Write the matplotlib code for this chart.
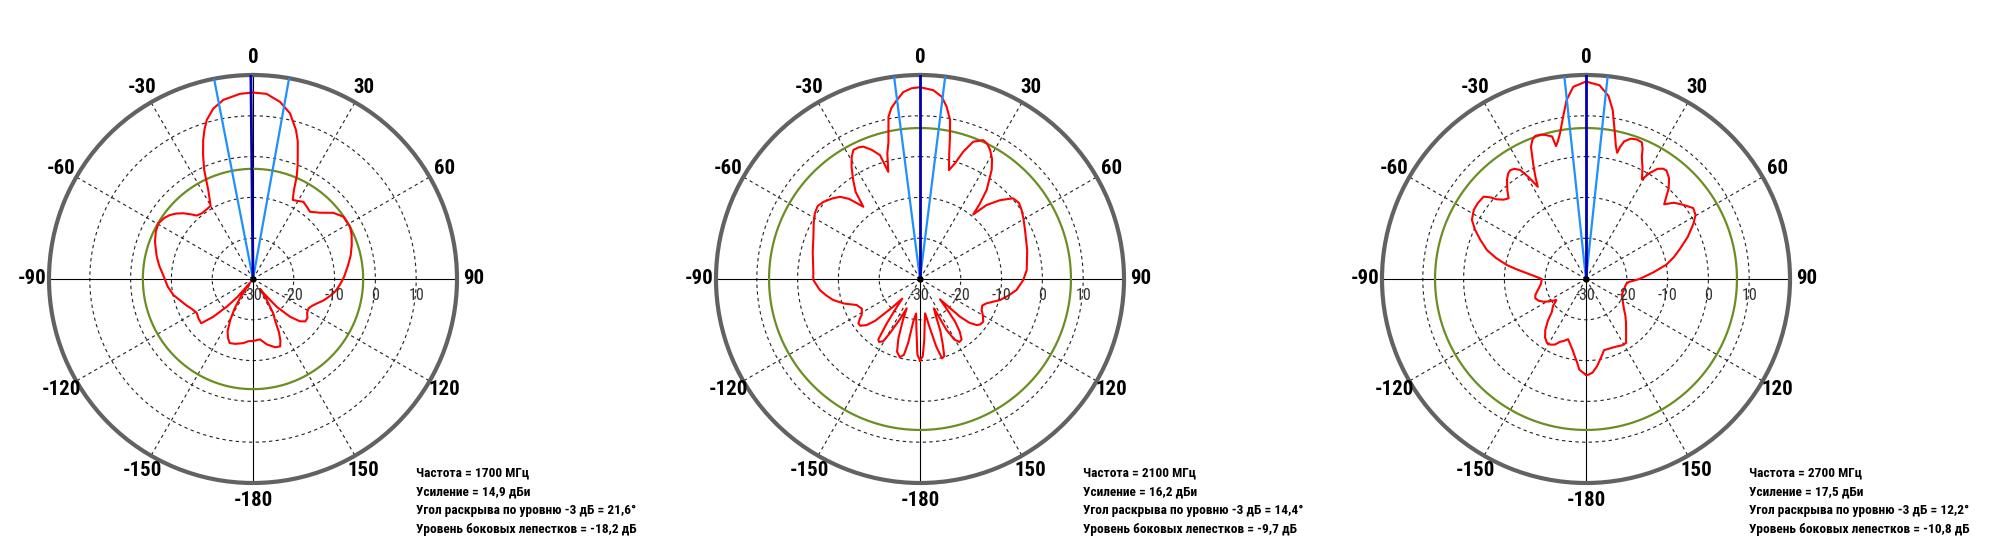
import numpy as np
import matplotlib
matplotlib.use("Agg")
import matplotlib.pyplot as plt
from matplotlib import transforms
from matplotlib import font_manager as fm

# Radiation patterns, angle in degrees (0 = boresight, clockwise positive), level in dB
ANG_1700 = [-180, -175.7, -171.4, -164.5, -160, -157, -154, -151, -148, -145, -142, -139,
            -136.5, -133.5, -130.5, -126, -121, -116, -111.9, -106, -101.4, -95, -87.7,
            -82, -76.5, -69.2, -64, -59.5, -55.5, -52.4, -49.5, -46.7, -43.5, -41.6, -38,
            -34, -30.1, -28.3, -26.7, -24.1, -21.8, -19.7, -18, -16.2, -13.1, -9.4, -4, 0,
            4.2, 8.7, 12.6, 16.1, 18, 19.6, 21.4, 23.1, 24.7, 26.7, 29.5, 33.1, 36.6, 40.3,
            45.3, 50.5, 55.4, 61.7, 65.8, 71, 76.6, 82, 88.8, 94, 98.6, 102.5, 106.8, 110.5,
            114.4, 118, 121.8, 125.5, 129, 132, 135.5, 139.5, 143, 144.8, 146.5, 149.5, 152,
            154, 156, 158, 162, 168, 173.4, 180]
DB_1700 = [-14.8, -14.7, -14.1, -13.5, -13.3, -14.3, -15.8, -18.5, -21.5, -25, -29, -24,
           -20.6, -16.5, -13.3, -13.5, -13.9, -13.3, -12.5, -11.3, -10.1, -9.0, -8.0,
           -6.8, -5.7, -4.3, -3.5, -3.1, -3.6, -4.3, -5.3, -6.5, -8.2, -9.2, -9.6,
           -9.5, -9.3, -7.5, -5.6, -0.7, 3.0, 6.2, 8.5, 10.6, 12.9, 14.5, 15.5, 15.7,
           15.5, 13.9, 11.6, 8.0, 5.5, 2.7, 0.0, -2.7, -6.0, -8.3, -8.0, -7.4, -7.9, -8.4,
           -6.9, -4.5, -3.1, -3.0, -3.5, -4.4, -5.4, -6.5, -7.7, -8.7, -9.6, -10.7, -11.9, -13.1,
           -14.1, -14.6, -14.4, -13.6, -13.5, -14.5, -17, -21, -25.5, -27, -24, -20.2, -18.5,
           -15.5, -13.5, -12.2, -12.4, -13.6, -15.1, -14.8]

ANG_2100 = [-180, -178, -176, -173.5, -171, -169.5, -168, -165.5, -162.5, -160, -157.5,
            -155.6, -153.5, -151, -149.5, -147, -145.4, -143.2, -140.5, -138, -135.5, -133,
            -130.8, -128, -125.7, -123, -121.7, -117, -112.3, -108, -103.6, -100, -96.3,
            -90.5, -85.2, -76, -68.4, -62, -58, -54.5, -51.4, -47.5, -44.2, -41.5, -38.1,
            -36.5, -34, -31.4, -29.2, -27.3, -25, -23.2, -20.5, -17.9, -16.5, -15.5, -14.6,
            -13, -11, -9.5, -7.4, -5.1, -2.5, 0, 4, 6.8, 8.8, 10.7, 11.9, 13.1, 14.9, 16.8,
            18.8, 21.2, 24.5, 26.5, 28.5, 31, 33.3, 36.8, 38.5, 39.5, 42, 45.4, 49.1, 52.5,
            55.8, 60, 65, 75, 85.2, 90.6, 96.5, 100.5, 104.7, 110, 113, 116.7, 120, 124, 127,
            129.1, 131.5, 133.3, 135.5, 138, 140.5, 143, 145.5, 148, 150.5, 152.5, 154.5,
            156.5, 158.5, 160.5, 162.5, 164.5, 166.5, 168.5, 171.5, 174, 176, 178, 180]
DB_2100 = [-10, -11.5, -17.5, -21.5, -19.4, -14, -11, -10.2, -11.3, -14.5, -19,
           -22.1, -19, -15, -12.3, -11.6, -12, -16.4, -21, -23.5, -20, -15,
           -12.7, -11.4, -11.4, -12.5, -13.2, -14, -13.2, -10.5, -8.1, -6.7, -5.3,
           -3.85, -3.75, -2.9, -1.9, -0.5, 0.4, 0.8, 0.3, -0.8, -1.9, -3.8, -7.5,
           -3.5, -0.7, 2.2, 4.3, 5.6, 5.6, 5.3, 3.8, 1.9, -2.6, -0.5, 1.8,
           4.4, 10.5, 12.5, 14.2, 16.0, 16.8, 17.0, 16.4, 15.0, 12.7, 9.7, 5.6, 1.6, -2.4, -0.4,
           3.0, 6.1, 7.4, 7.0, 6.0, 4.3, 2.0, -2.7, -6.5, -9.5, -5.6, -2.5, 0.2, 0.6,
           0.1, -0.7, -1.6, -2.8, -3.75, -4.7, -6.2, -7.9, -9.7, -12.6, -13.4, -13.1, -12.2, -11.3, -11.5,
           -12.1, -13.8, -16.5, -23, -20.5, -16.5, -13.8, -12, -11.8, -13, -16, -22,
           -20.5, -16.5, -13.5, -10.2, -9.8, -13, -17.5, -21.5, -19, -15, -11, -10]

ANG_2700 = [-180, -175.8, -173.7, -171.5, -169.3, -166.5, -163.4, -160, -157.7, -154.6,
            -151.5, -148.8, -145, -141.4, -137.5, -133.9, -129.5, -125.3, -121.5, -118.2,
            -114.5, -110.8, -107.5, -104.5, -97, -90, -87, -84.5, -82, -80, -76.8, -73.7,
            -69.7, -66, -62.6, -58.4, -55, -51.2, -49.5, -48.2, -46, -43.8, -41.5, -38.6,
            -36.5, -34.8, -33, -31.1, -29.3, -27.6, -26.3, -25, -23.7, -22.6, -21, -19.5,
            -17.5, -15.8, -13.4, -12.7, -11.5, -10.1, -8, -6.2, -3.8, 0, 4, 7, 9, 11.4, 12.6,
            13.9, 14.5, 15.5, 17.7, 20, 22.2, 23.5, 24.5, 27, 29.3, 31, 33, 35, 36.6, 39.5,
            42.4, 44.5, 46.3, 49, 52.2, 56.5, 59.7, 62.8, 67.5, 72.2, 76, 79.9, 84.5, 90, 94,
            97.5, 106, 114, 121, 128.5, 133, 137.5, 142.1, 147.9, 151.5, 155.2, 160, 165.8,
            169, 172.7, 176, 178.7, 180]
DB_2700 = [-6.5, -7.7, -9.6, -11, -12.3, -13.5, -14.6, -13.8, -13.4, -12.2,
           -11.7, -11.6, -12.5, -14, -16.2, -18.4, -19.5, -21.1, -19.5, -18.2,
           -17.2, -16.7, -17, -17.6, -18.8, -19.2, -17.5, -15.5, -12.8, -10.3, -7.3, -4.7,
           -2.4, -0.2, 1.5, 2.3, 2.4, 2.2, 0.8, -0.7, -2, -2.6, -0.9, 1.05,
           2.1, 2.5, 2.2, 1.2, -1.5, -4.5, -2, 0.4, 2.8, 5.1, 6.6, 7.2,
           7.1, 6.7, 5.9, 3.4, 4.5, 6.3, 10.2, 14.1, 17.2, 18.4, 17.6, 15.2, 11.9, 6, 3.5,
           1.85, 3.5, 5, 6.1, 6.4, 6.2, 4.8, 3.0, 0.5, -2, 0.3, 2.2, 3.0, 3.1, 2,
           0.05, -2, -3.5, -1.5, -0.2, 1.5, 1.1, -0.4, -3, -5.8, -7.8, -10, -13.5, -16.9, -19.5,
           -20.1, -20.4, -20.4, -19.5, -18.1, -16.8, -15.5, -14, -11.5, -11.5, -11.8, -12, -12,
           -10.5, -8.5, -7, -6.5, -6.5]

FREQS = ["1700", "2100", "2700"]
GAINS = ["14,9", "16,2", "17,5"]
BEAM_LABELS = ["21,6", "14,4", "12,2"]
SIDELOBES = ["-18,2", "-9,7", "-10,8"]
GREEN_LEVEL = [-3.0, 7.0, 7.0]
BORESIGHT = [-0.6, 0.0, 0.0]
BEAM_EDGES = [(-11.0, 10.2), (-7.3, 7.1), (-6.1, 6.1)]

ANGLE_TICKS = [0, 30, 60, 90, 120, 150, 180, -150, -120, -90, -60, -30]
ANGLE_LABELS = ["0", "30", "60", "90", "120", "150", "-180", "-150", "-120", "-90", "-60", "-30"]
RING_LEVELS = [-20, -10, 0, 10]
RING_LABELS = [-30, -20, -10, 0, 10]
R_MIN, R_MAX = -30, 20

CENTERS_X = [253, 920, 1586]  # pixel centres of the three diagrams
CENTER_Y = 279
RADIUS_PX = 204


def narrow_font(bold):
    """Look for an installed condensed face; None if there is none."""
    prefs = ["Liberation Sans Narrow", "Arial Narrow", "Roboto Condensed",
             "Noto Sans", "Open Sans", "DejaVu Sans"]
    for name in prefs:
        for f in fm.fontManager.ttflist:
            if not f.name.startswith(name) or "Mono" in f.name:
                continue
            w = f.weight if isinstance(f.weight, int) else (700 if f.weight == "bold" else 400)
            if bold and not (650 <= w <= 750):
                continue
            if not bold and not (350 <= w <= 450):
                continue
            if "italic" in f.style or "oblique" in f.style:
                continue
            cond = (f.stretch in ("condensed", "semi-condensed", "extra-condensed")
                    or "Narrow" in f.name or "Cond" in f.name)
            if cond:
                return f.fname
    return None


bold_file = narrow_font(True)
reg_file = narrow_font(False)
if bold_file:
    BOLD = dict(fontproperties=fm.FontProperties(fname=bold_file))
    info_size, angle_size = 9.6, 15
else:
    BOLD = dict(family=["Liberation Sans", "DejaVu Sans"], fontweight="bold")
    info_size, angle_size = 7.4, 13
if reg_file:
    REG = dict(fontproperties=fm.FontProperties(fname=reg_file))
    ring_size = 11.5
else:
    REG = dict(family=["Liberation Sans", "DejaVu Sans"])
    ring_size = 10

fig = plt.figure(figsize=(20, 5.57), dpi=100)
W, H = 2000, 557

patterns = [(ANG_1700, DB_1700), (ANG_2100, DB_2100), (ANG_2700, DB_2700)]
full = np.linspace(0, 2 * np.pi, 721)

for i, (ang, db) in enumerate(patterns):
    cx = CENTERS_X[i]
    rect = [(cx - RADIUS_PX) / W, (H - CENTER_Y - RADIUS_PX) / H,
            2 * RADIUS_PX / W, 2 * RADIUS_PX / H]
    ax = fig.add_axes(rect, projection="polar")
    ax.set_theta_zero_location("N")
    ax.set_theta_direction(-1)
    ax.set_ylim(R_MIN, R_MAX)
    ax.set_xticks([])
    ax.set_yticks([])
    ax.grid(False)
    ax.spines["polar"].set_color("#626262")
    ax.spines["polar"].set_linewidth(3)

    # dashed rings and spokes
    for lv in RING_LEVELS:
        ax.plot(full, np.full_like(full, lv), color="#222222", lw=0.8, ls=(0, (3, 3)), zorder=1)
    for t in ANGLE_TICKS:
        if t % 90 == 0:
            continue
        ax.plot([np.deg2rad(t)] * 2, [R_MIN, R_MAX], color="#222222", lw=0.8,
                ls=(0, (3, 3)), zorder=1)
    # solid cross
    for t in (0, 90, 180, 270):
        ax.plot([np.deg2rad(t)] * 2, [R_MIN, R_MAX], color="k", lw=0.8, zorder=2)

    # reference circle
    ax.plot(full, np.full_like(full, GREEN_LEVEL[i]), color="#6b8e23", lw=1.6, zorder=3)

    # pattern
    ax.plot(np.deg2rad(ang), db, color="#ff0000", lw=1.5, zorder=4)

    # boresight and -3 dB edges
    ax.plot([np.deg2rad(BORESIGHT[i])] * 2, [R_MIN, R_MAX], color="#0000b4", lw=2.0, zorder=6)
    for e in BEAM_EDGES[i]:
        ax.plot([np.deg2rad(e)] * 2, [R_MIN, R_MAX], color="#1e90ff", lw=1.6, zorder=5)
    ax.plot([0], [R_MIN], "o", color="k", ms=3.5, zorder=7)

    # angle labels
    for t, lab in zip(ANGLE_TICKS, ANGLE_LABELS):
        ax.text(np.deg2rad(t), 24.2, lab, ha="center", va="center", fontsize=angle_size,
                clip_on=False, **BOLD)

    # level labels just below the 90 deg axis
    off = transforms.offset_copy(ax.transData, fig=fig, x=0, y=-16, units="dots")
    for lv in RING_LABELS:
        ax.text(np.deg2rad(90), lv, str(lv), transform=off, ha="center", va="center",
                fontsize=ring_size, color="#333333", zorder=8, **REG)

    # info block
    lines = [
        f"Частота = {FREQS[i]} МГц",
        f"Усиление = {GAINS[i]} дБи",
        f"Угол раскрыва по уровню -3 дБ = {BEAM_LABELS[i]}°",
        f"Уровень боковых лепестков = {SIDELOBES[i]} дБ",
    ]
    x0 = (cx + 163) / W
    for k, line in enumerate(lines):
        y = (H - (473 + 18.7 * k)) / H
        fig.text(x0, y, line, ha="left", va="center", fontsize=info_size, **BOLD)

fig.savefig("out.png", dpi=100, facecolor="white")
